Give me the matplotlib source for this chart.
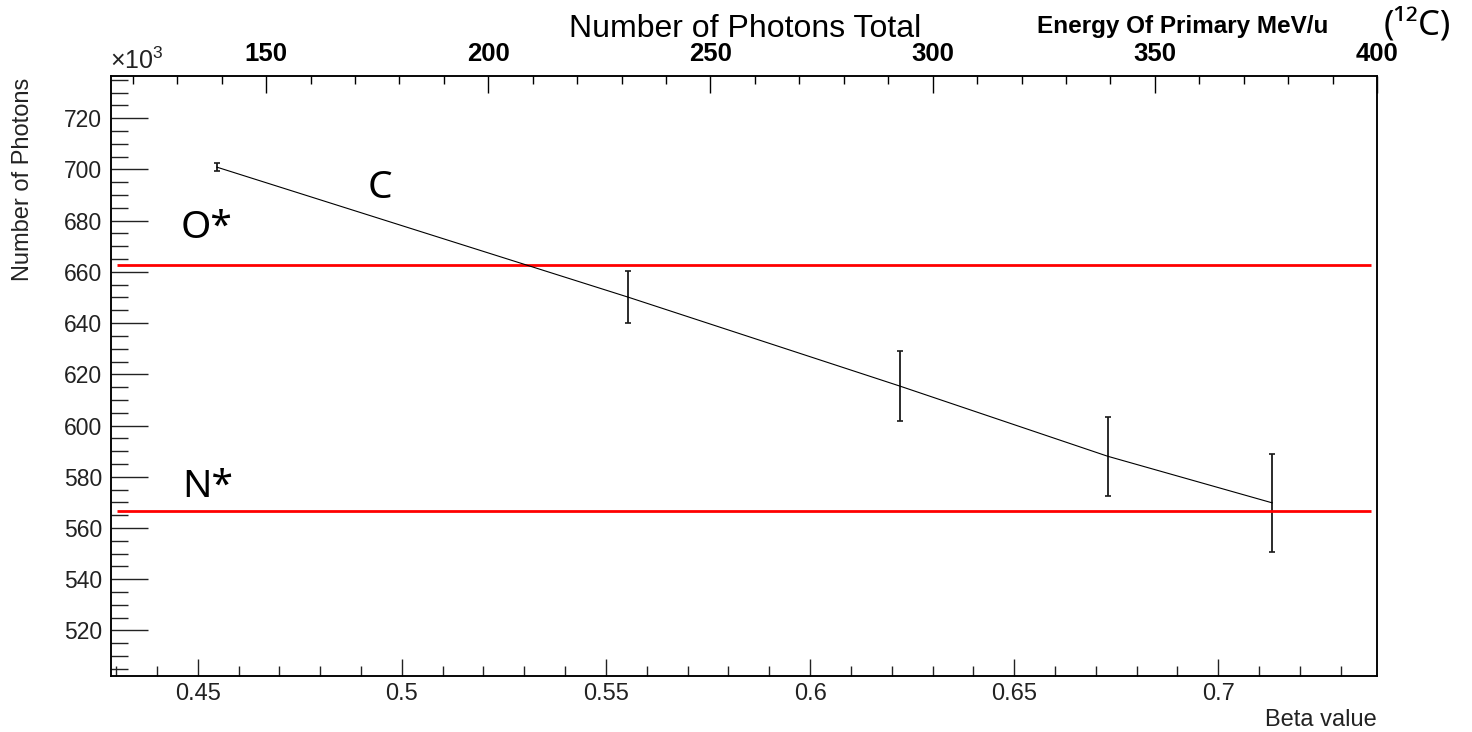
import numpy as np
import matplotlib
matplotlib.use("Agg")
import matplotlib.pyplot as plt
from matplotlib.ticker import MultipleLocator

plt.rcParams['font.family'] = ['Liberation Sans', 'DejaVu Sans']
plt.rcParams['mathtext.fontset'] = 'custom'
plt.rcParams['mathtext.rm'] = 'Liberation Sans'
plt.rcParams['mathtext.it'] = 'Liberation Sans:italic'

# data (photons in units of 10^3)
beta = [0.4547, 0.5555, 0.6220, 0.6729, 0.7132]
photons = [700.9, 650.1, 615.4, 588.0, 569.8]
photons_err = [1.6, 10.2, 13.8, 15.4, 19.0]

# reference levels for the other ions
ref_names = ['O*', 'N*']
ref_levels = [662.7, 566.6]

# label positions (beta, photons)
lbl_C = (0.4947, 688.8)
lbl_ref = [(0.4457, 673.1), (0.4462, 572.2)]

beta_lim = (0.42876, 0.73887)
ph_lim = (502.3, 736.5)
energy_lim = (115.1, 400)
energy_ticks = [150, 200, 250, 300, 350, 400]

fig = plt.figure(figsize=(14.72, 7.32), dpi=100)
ax = fig.add_axes([111/1472, 1-675.7/732, 1266/1472, 599.7/732])

# main curve with error bars
ax.errorbar(beta, photons, yerr=photons_err, color='black', lw=0.8,
            ecolor='#1a1a1a', elinewidth=1.3, capsize=2.5, capthick=1.2)
ax.hlines(ref_levels, 0.4302, 0.7375, colors='red', lw=2)

ax.text(lbl_C[0], lbl_C[1], 'C', fontsize=28, family='Noto Sans', ha='center', va='baseline')
for name, pos in zip(ref_names, lbl_ref):
    ax.text(pos[0], pos[1], name, fontsize=28, family='Noto Sans', ha='left', va='baseline')

ax.set_xlim(*beta_lim)
ax.set_ylim(*ph_lim)
ax.xaxis.set_minor_locator(MultipleLocator(0.01))
ax.yaxis.set_major_locator(MultipleLocator(20))
ax.yaxis.set_minor_locator(MultipleLocator(5))
ax.set_xticks([0.45, 0.5, 0.55, 0.6, 0.65, 0.7], labels=['0.45', '0.5', '0.55', '0.6', '0.65', '0.7'])

ax.tick_params(axis='x', which='both', direction='in', top=False, labelsize=17, pad=5, colors='#222222')
ax.tick_params(axis='x', which='major', length=12.2, width=1)
ax.tick_params(axis='x', which='minor', length=7.2, width=1)
ax.tick_params(axis='y', which='both', direction='in', right=False, labelsize=16.5, pad=6.5, colors='#222222')
ax.tick_params(axis='y', which='major', length=26.6, width=1)
ax.tick_params(axis='y', which='minor', length=12.2, width=1)

for s in ax.spines.values():
    s.set_linewidth(1.1)

ax.set_ylabel('Number of Photons', fontsize=17, loc='top', color='#222222')
ax.yaxis.set_label_coords(-0.0608, 0.997)
ax.set_xlabel('Beta value', fontsize=17, loc='right', color='#222222')
ax.xaxis.set_label_coords(1.0, -0.0555)
ax.text(-0.001, 1.003, r'$\times 10^{3}$', transform=ax.transAxes, ha='left', va='bottom',
        fontsize=18, color='#222222')

# top energy axis
ax2 = ax.twiny()
ax2.set_xlim(*energy_lim)
ax2.set_xticks(energy_ticks, labels=[str(t) for t in energy_ticks], fontweight='bold', fontsize=18.5)
ax2.xaxis.set_minor_locator(MultipleLocator(10))
ax2.tick_params(axis='x', which='both', direction='in', top=True, bottom=False, pad=7)
ax2.tick_params(axis='x', which='major', length=12.2, width=1)
ax2.tick_params(axis='x', which='minor', length=5.8, width=1)
for s in ax2.spines.values():
    s.set_linewidth(1.1)

fig.text(745/1472, 1-37/732, 'Number of Photons Total', fontsize=23, ha='center', va='baseline')
fig.text(1328/1472, 1-33/732, 'Energy Of Primary MeV/u', fontsize=17.5, fontweight='bold',
         ha='right', va='baseline')
fig.text(1384/1472, 1-34/732, '(¹²C)', fontsize=25, family='Noto Sans', ha='left', va='baseline')

fig.savefig('out.png', dpi=100)
